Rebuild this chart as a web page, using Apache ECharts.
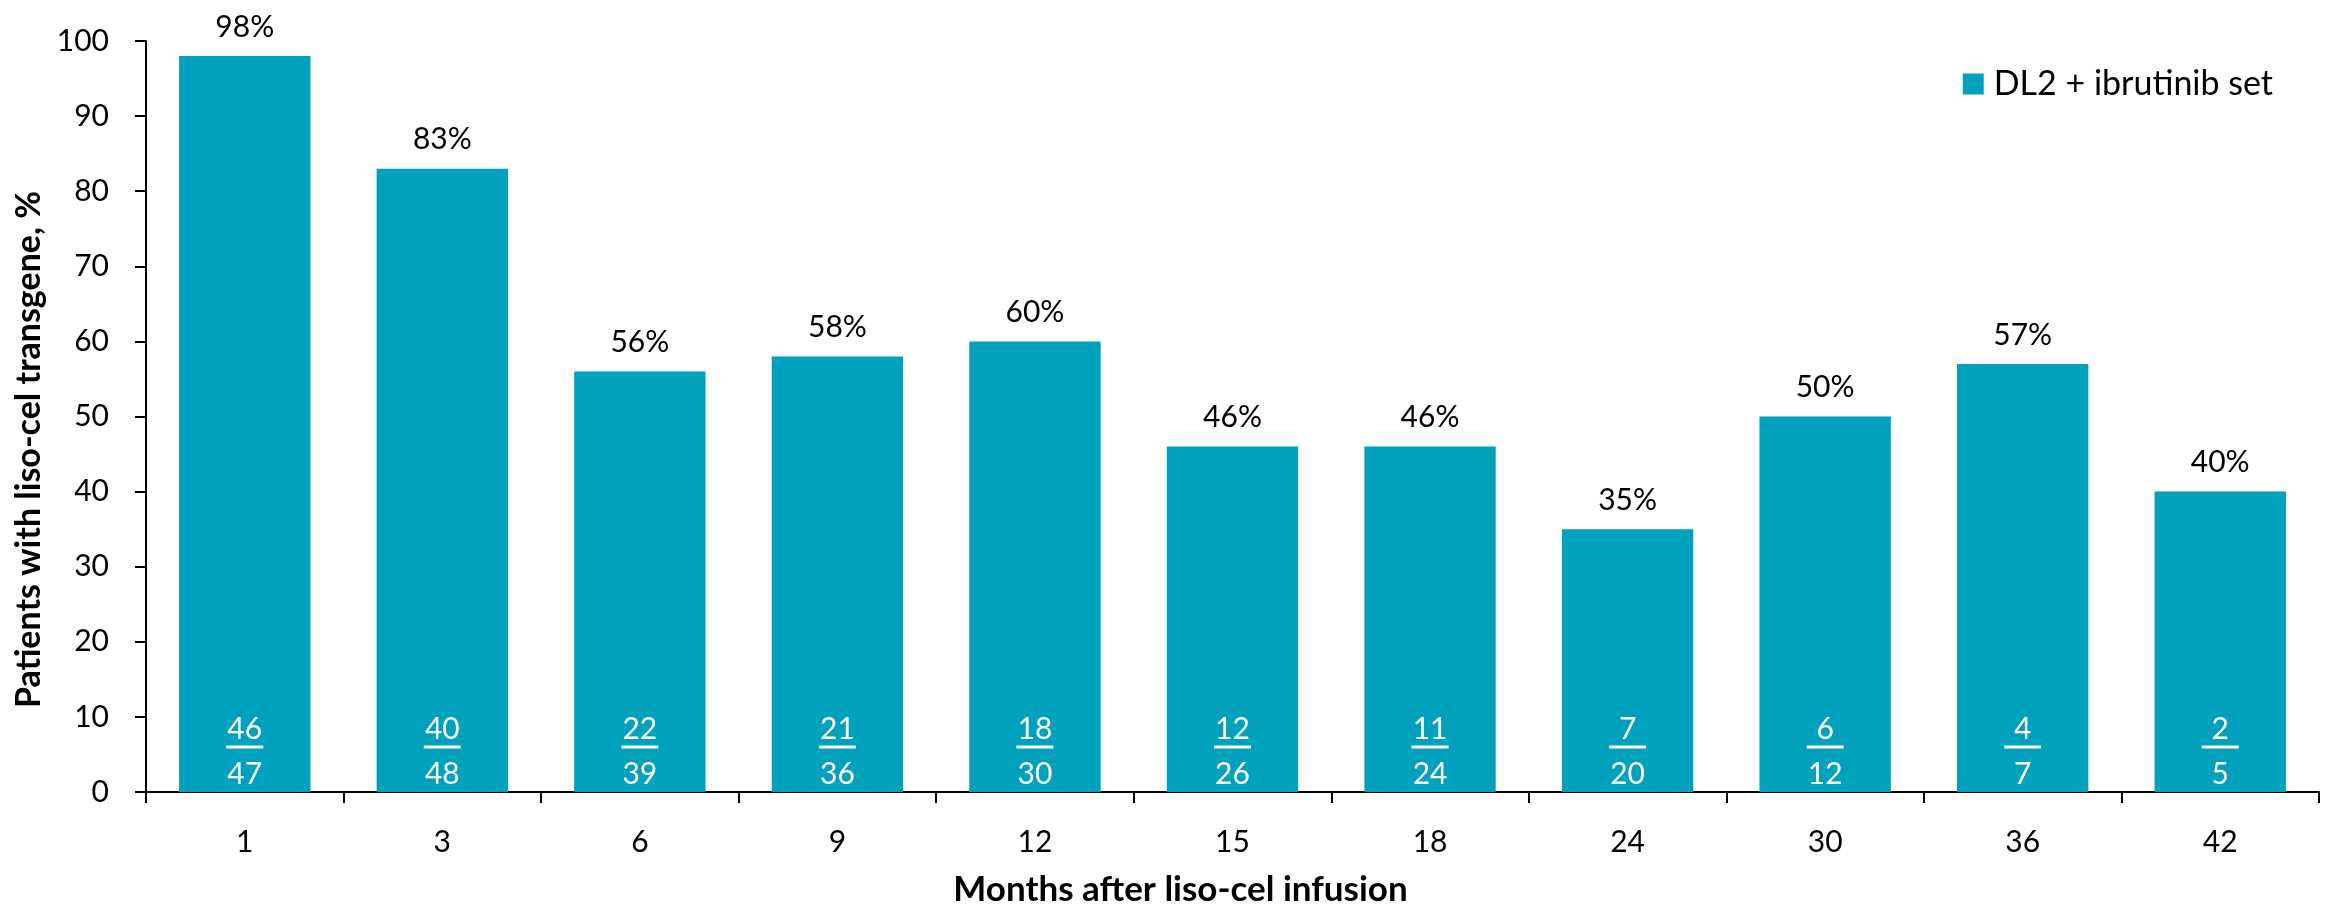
<!DOCTYPE html>
<html>
<head>
<meta charset="utf-8">
<script src="https://cdn.jsdelivr.net/npm/echarts@6/dist/echarts.min.js"></script>
<style>
  html, body { margin: 0; padding: 0; background: #fff; }
  #chart { width: 2330px; height: 912px; }
</style>
</head>
<body>
<div id="chart"></div>
<script>
// Months after infusion (categories)
const months = ['1', '3', '6', '9', '12', '15', '18', '24', '30', '36', '42'];
// Percentage of patients with detectable transgene
const percentPositive = [98, 83, 56, 58, 60, 46, 46, 35, 50, 57, 40];
// Patients positive / patients evaluated at each visit
const nPositive = [46, 40, 22, 21, 18, 12, 11, 7, 6, 4, 2];
const nEvaluated = [47, 48, 39, 36, 30, 26, 24, 20, 12, 7, 5];
// Y axis ticks
const yTicks = [0, 10, 20, 30, 40, 50, 60, 70, 80, 90, 100];

const seriesName = 'DL2 + ibrutinib set';
const barColor = '#00A1BC';
const font = 'Lato';

const chart = echarts.init(document.getElementById('chart'), null, { renderer: 'canvas' });

chart.setOption({
  animation: false,
  backgroundColor: '#ffffff',
  textStyle: { fontFamily: font, color: '#000' },
  grid: { left: 146, right: 11, top: 41, bottom: 118, containLabel: false },
  legend: {
    data: [seriesName],
    right: 52,
    top: 62,
    icon: 'rect',
    itemWidth: 21,
    itemHeight: 21,
    textStyle: { fontFamily: font, fontSize: 34, color: '#000', padding: [0, 0, 0, 5] }
  },
  xAxis: {
    type: 'category',
    data: months,
    name: 'Months after liso-cel infusion',
    nameLocation: 'middle',
    nameGap: 80,
    nameTextStyle: { fontFamily: font, fontSize: 35, fontWeight: 'bold', color: '#000', padding: [0, 104, 0, 0] },
    axisLine: { show: true, lineStyle: { color: '#000', width: 2 } },
    axisTick: { show: true, length: 11, lineStyle: { color: '#000', width: 2 } },
    axisLabel: { fontFamily: font, fontSize: 30, color: '#000', margin: 35 }
  },
  yAxis: {
    type: 'value',
    min: yTicks[0],
    max: yTicks[yTicks.length - 1],
    interval: 10,
    name: 'Patients with liso-cel transgene, %',
    nameLocation: 'middle',
    nameGap: 100,
    nameRotate: 90,
    nameTextStyle: { fontFamily: font, fontSize: 34, fontWeight: 'bold', color: '#000', padding: [0, 66, 0, 0] },
    axisLine: { show: true, lineStyle: { color: '#000', width: 2 } },
    axisTick: { show: true, length: 11, inside: false, lineStyle: { color: '#000', width: 2 } },
    axisLabel: { fontFamily: font, fontSize: 30, color: '#000', margin: 37 },
    splitLine: { show: false }
  },
  series: [
    {
      name: seriesName,
      type: 'bar',
      data: percentPositive,
      barCategoryGap: '33.5%',
      itemStyle: { color: barColor },
      label: {
        show: true,
        position: 'top',
        distance: 14,
        fontFamily: font,
        fontSize: 30,
        color: '#000',
        formatter: p => p.value + '%'
      }
    },
    {
      // Transparent overlay bars carrying the n/N fraction labels at each bar's base
      name: 'counts',
      type: 'bar',
      data: percentPositive,
      barCategoryGap: '33.5%',
      barGap: '-100%',
      itemStyle: { color: 'rgba(0,0,0,0)' },
      silent: true,
      legendHoverLink: false,
      label: {
        show: true,
        position: 'insideBottom',
        distance: 0,
        formatter: p => '{n|' + nPositive[p.dataIndex] + '}\n{l|}\n{s|}\n{d|' + nEvaluated[p.dataIndex] + '}',
        rich: {
          n: { fontFamily: font, fontSize: 30, color: '#fff', lineHeight: 32, align: 'center' },
          l: { width: 37, height: 3, lineHeight: 4, backgroundColor: '#fff', align: 'center' },
          s: { height: 7, lineHeight: 7 },
          d: { fontFamily: font, fontSize: 30, color: '#fff', lineHeight: 36, align: 'center' }
        }
      }
    }
  ]
});
</script>
</body>
</html>
